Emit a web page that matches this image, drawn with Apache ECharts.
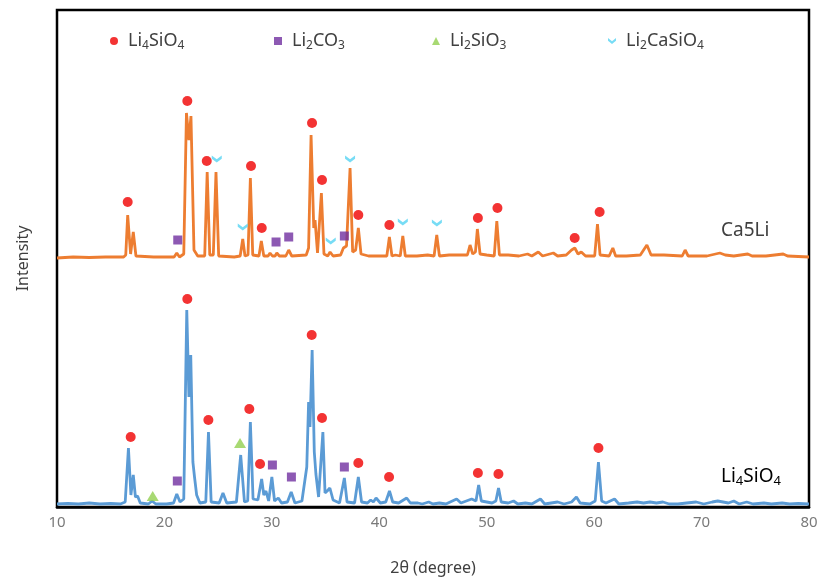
<!DOCTYPE html>
<html>
<head>
<meta charset="utf-8">
<script src="https://cdn.jsdelivr.net/npm/echarts@6/dist/echarts.min.js"></script>
<style>
  html, body { margin: 0; padding: 0; background: #fff; }
  #main { width: 822px; height: 583px; }
</style>
</head>
<body>
<div id="main"></div>
<script>
// x axis ticks
var xTicks = [10, 20, 30, 40, 50, 60, 70, 80];

// Ca5Li pattern, [2theta, intensity above its own baseline]
var ca5li = [
  [10, 0], [11.5, 1], [13, 0.5], [14.5, 1], [16.2, 1], [16.4, 3], [16.58, 43], [16.85, 4], [17.1, 26], [17.35, 2],
  [19, 1], [20.9, 1], [21.15, 5], [21.4, 1], [21.8, 4], [22.05, 145], [22.28, 118], [22.47, 142], [22.75, 8], [23.1, 2],
  [23.75, 2], [23.98, 86], [24.22, 3], [24.55, 3], [24.8, 86], [25.05, 2], [26.5, 1], [27.05, 2], [27.29, 19], [27.5, 2],
  [27.78, 3], [28.0, 80], [28.22, 3], [28.8, 2], [29.02, 17], [29.25, 2], [29.65, 2], [29.83, 5], [30.05, 2], [30.3, 2],
  [30.46, 5], [30.7, 2], [31.3, 2], [31.57, 8], [31.85, 2], [33.2, 3], [33.42, 10], [33.65, 123], [33.9, 30], [34.02, 38],
  [34.25, 5], [34.42, 6], [34.61, 65], [34.85, 4], [35.2, 2], [35.42, 6], [35.7, 2], [36.4, 3], [36.66, 10], [36.95, 12],
  [37.28, 90], [37.52, 6], [37.8, 8], [38.05, 30], [38.3, 4], [39, 2], [40.0, 2], [40.7, 2], [40.94, 21], [41.18, 2],
  [41.5, 3], [41.95, 2], [42.19, 22], [42.42, 2], [43.5, 2], [44.5, 3], [45.1, 2], [45.35, 23], [45.6, 2], [46.5, 3],
  [47.5, 3], [48.2, 3], [48.45, 13], [48.7, 4], [48.95, 6], [49.13, 29], [49.38, 4], [50.0, 3], [50.7, 2], [50.94, 37],
  [51.18, 3], [52, 3], [53.0, 2], [53.8, 4], [54.2, 2], [54.8, 6], [55.2, 2], [56.2, 5], [56.6, 2], [57.4, 3],
  [57.9, 8], [58.2, 10], [58.5, 4], [58.8, 6], [59.2, 2], [60.05, 2], [60.31, 34], [60.55, 3], [61.4, 2], [61.74, 10],
  [62.0, 2], [63, 2], [64.3, 3], [64.91, 13], [65.3, 3], [66.5, 3], [68.2, 2], [68.47, 8], [68.75, 2], [70.5, 2],
  [71.3, 4], [71.7, 5], [72.2, 3], [73.0, 2], [74.3, 4], [74.7, 2], [76, 2], [77.6, 4], [78.0, 2], [80, 1]
];

// Li4SiO4 pattern, [2theta, intensity]
var li4sio4 = [
  [10, 3], [11, 3.5], [12, 3], [13, 4], [14, 3], [15, 3.5], [15.9, 3], [16.35, 5], [16.65, 59], [16.88, 12],
  [17.1, 32], [17.3, 10], [17.5, 11], [17.75, 4], [18.5, 3], [18.85, 6], [19.2, 3], [20.2, 3], [20.85, 4], [21.15, 13],
  [21.45, 5], [21.8, 8], [22.08, 197], [22.28, 110], [22.45, 152], [22.65, 45], [22.8, 30], [23.0, 12], [23.3, 4], [23.85, 5],
  [24.1, 75], [24.35, 5], [25.1, 4], [25.45, 14], [25.8, 4], [26.7, 5], [27.1, 52], [27.45, 5], [27.75, 6], [28.0, 85],
  [28.25, 8], [28.7, 7], [29.05, 28], [29.25, 12], [29.45, 16], [29.7, 6], [30.0, 30], [30.25, 6], [30.6, 9], [30.9, 4],
  [31.45, 5], [31.8, 15], [32.15, 4], [32.8, 6], [33.25, 40], [33.42, 105], [33.55, 80], [33.75, 157], [33.95, 55], [34.1, 33],
  [34.35, 10], [34.5, 12], [34.75, 75], [34.95, 14], [35.15, 16], [35.4, 19], [35.7, 7], [36.3, 4], [36.75, 29], [37.0, 5],
  [37.7, 4], [38.05, 30], [38.35, 5], [38.9, 4], [39.2, 7], [39.45, 5], [39.7, 9], [40.1, 4], [40.6, 5], [40.95, 16],
  [41.25, 5], [41.8, 4], [42.55, 9], [42.9, 4], [43.6, 4], [44.0, 3], [44.6, 5], [45.0, 3], [45.6, 4], [46.2, 3],
  [46.6, 5], [47.2, 8], [47.6, 4], [48.1, 6], [48.6, 8], [49.0, 6], [49.25, 22], [49.5, 6], [50.0, 5], [50.5, 4],
  [50.85, 6], [51.1, 19], [51.35, 5], [52.0, 4], [52.5, 6], [52.9, 3], [53.6, 4], [54.2, 3], [55.0, 8], [55.4, 3],
  [56.0, 4], [56.6, 5], [57.2, 3], [57.9, 5], [58.35, 10], [58.7, 4], [59.6, 3], [60.1, 6], [60.4, 45], [60.7, 6],
  [61.1, 4], [61.9, 8], [62.3, 3], [63.2, 4], [64.0, 5], [64.6, 4], [65.2, 5], [65.8, 4], [66.4, 5], [67, 3],
  [67.8, 3], [68.6, 4], [69.5, 5], [70.2, 3], [71.0, 5], [71.5, 6], [72.0, 5], [72.5, 4], [73.0, 6], [73.5, 3],
  [74.2, 5], [74.8, 3], [75.8, 4], [76.5, 3], [77.5, 4], [78.2, 3], [79, 3.5], [80, 3]
];

var ORANGE_OFFSET = 249;

// phase markers, [2theta, height on the stacked plot]
var markLi4SiO4 = [
  [16.58, 305], [22.13, 406], [23.94, 346], [28.06, 341], [29.06, 279], [33.74, 384], [34.67, 327], [38.05, 292],
  [40.94, 282], [49.18, 289], [51.0, 299], [58.19, 269], [60.51, 295],
  [16.86, 70], [22.13, 208], [24.09, 87], [27.9, 98], [28.9, 43], [33.71, 172], [34.67, 89], [38.05, 44],
  [40.91, 30], [49.18, 34], [51.09, 33], [60.4, 59]
];
var markLi2CO3 = [
  [21.24, 267], [30.39, 265], [31.57, 270], [36.75, 271],
  [21.2, 26], [30.05, 42], [31.82, 30], [36.75, 40]
];
var markLi2SiO3 = [
  [18.91, 11], [27.04, 64]
];
var markLi2CaSiO4 = [
  [24.87, 348], [27.29, 280], [35.48, 266], [37.28, 348], [42.19, 285], [45.36, 284]
];

var chevron = 'path://M0,0 L5,4 L10,0 L10,3.5 L5,7.5 L0,3.5 Z';

var chart = echarts.init(document.getElementById('main'));

var FONT = 'Noto Sans';
var rich = {
  n: { fontFamily: FONT, fontSize: 18, color: '#404040' },
  s: { fontFamily: FONT, fontSize: 12, color: '#404040', padding: [9, 0, 0, 0] }
};
var richBig = {
  n: { fontFamily: FONT, fontSize: 19, color: '#404040' },
  s: { fontFamily: FONT, fontSize: 13, color: '#404040', padding: [9, 0, 0, 0] }
};
function chem(name) {
  return '{n|' + name.replace(/\d/g, function (d) { return '}{s|' + d + '}{n|'; }) + '}';
}
function legendAt(name, left) {
  return {
    data: [name],
    left: left,
    top: 27,
    itemWidth: 8,
    itemHeight: 8,
    itemGap: 0,
    selectedMode: false,
    formatter: function (n) { return chem(n); },
    textStyle: { rich: rich, padding: [0, 0, 0, 5] }
  };
}

var option = {
  animation: false,
  grid: {
    left: 57, right: 13, top: 10, bottom: 76,
    show: true, borderColor: '#000', borderWidth: 2.5
  },
  legend: [
    legendAt('Li4SiO4', 105),
    legendAt('Li2CO3', 269),
    legendAt('Li2SiO3', 427),
    legendAt('Li2CaSiO4', 603)
  ],
  xAxis: {
    type: 'value',
    min: xTicks[0],
    max: xTicks[xTicks.length - 1],
    interval: 10,
    name: '2θ (degree)',
    nameLocation: 'middle',
    nameGap: 53,
    nameTextStyle: { fontFamily: FONT, fontSize: 16, color: '#404040' },
    axisLine: { lineStyle: { color: '#000', width: 2.5 } },
    axisTick: { show: false },
    splitLine: { show: false },
    axisLabel: { fontFamily: FONT, fontSize: 15, color: '#7a7a7a', margin: 8 }
  },
  yAxis: {
    type: 'value',
    min: 0,
    max: 497,
    name: 'Intensity',
    nameLocation: 'middle',
    nameGap: 26,
    nameTextStyle: { fontFamily: FONT, fontSize: 16, color: '#404040' },
    axisLine: { show: false },
    axisTick: { show: false },
    axisLabel: { show: false },
    splitLine: { show: false }
  },
  series: [
    {
      name: 'Ca5Li pattern',
      type: 'line',
      showSymbol: false,
      data: ca5li.map(function (p) { return [p[0], p[1] + ORANGE_OFFSET]; }),
      lineStyle: { color: '#ED7D31', width: 2.8 },
      z: 2
    },
    {
      name: 'Li4SiO4 pattern',
      type: 'line',
      showSymbol: false,
      data: li4sio4,
      lineStyle: { color: '#5B9BD5', width: 2.8 },
      z: 2
    },
    { name: 'Li4SiO4', type: 'scatter', data: markLi4SiO4, symbol: 'circle', symbolSize: 10, itemStyle: { color: '#F00000' }, z: 5 },
    { name: 'Li2CO3', type: 'scatter', data: markLi2CO3, symbol: 'rect', symbolSize: 9, itemStyle: { color: '#7030A0' }, z: 5 },
    { name: 'Li2SiO3', type: 'scatter', data: markLi2SiO3, symbol: 'triangle', symbolSize: [12, 10], itemStyle: { color: '#92D050' }, z: 5 },
    { name: 'Li2CaSiO4', type: 'scatter', data: markLi2CaSiO4, symbol: chevron, symbolSize: [10, 7], itemStyle: { color: '#55D3F2' }, z: 5 }
  ],
  graphic: [
    {
      type: 'text', left: 721, top: 221,
      style: { text: 'Ca5Li', font: '19px "Noto Sans"', fill: '#404040' }
    },
    {
      type: 'text', left: 721, top: 467,
      style: { text: chem('Li4SiO4'), rich: richBig }
    }
  ]
};

chart.setOption(option);
</script>
</body>
</html>
